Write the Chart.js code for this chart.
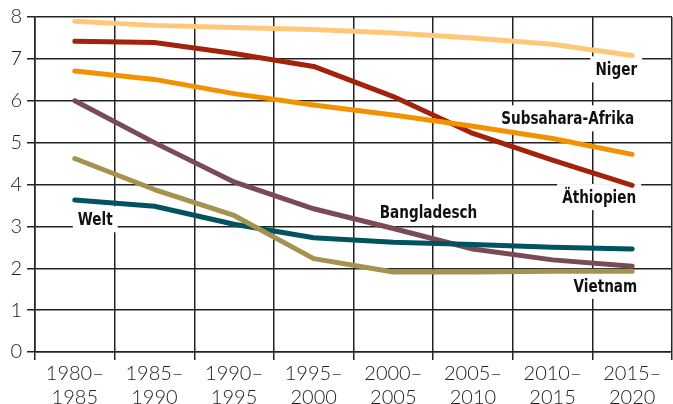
<!DOCTYPE html>
<html>
<head>
<meta charset="utf-8">
<script src="https://cdn.jsdelivr.net/npm/chart.js@4/dist/chart.umd.min.js"></script>
<style>
  html, body { margin: 0; padding: 0; background: #fff; }
  #wrap { width: 673px; height: 404px; }
</style>
</head>
<body>
<div id="wrap"><canvas id="myChart"></canvas></div>
<script>
// ------------ data -------------
const periods = [
  ['1980–', '1985'], ['1985–', '1990'], ['1990–', '1995'], ['1995–', '2000'],
  ['2000–', '2005'], ['2005–', '2010'], ['2010–', '2015'], ['2015–', '2020']
];
const niger      = [7.90, 7.80, 7.75, 7.70, 7.62, 7.50, 7.35, 7.08];
const aethiopien = [7.42, 7.39, 7.13, 6.82, 6.10, 5.22, 4.58, 3.98];
const subsahara  = [6.71, 6.51, 6.17, 5.90, 5.66, 5.39, 5.10, 4.72];
const bangladesch = [6.00, 5.00, 4.06, 3.42, 2.95, 2.46, 2.20, 2.05];
const vietnam    = [4.62, 3.88, 3.26, 2.23, 1.91, 1.91, 1.93, 1.93];
const welt       = [3.63, 3.48, 3.05, 2.73, 2.62, 2.57, 2.50, 2.46];
const yTicks = [0, 1, 2, 3, 4, 5, 6, 7, 8];

const labelFont = 'bold 18px "DejaVu Sans Condensed", "Liberation Sans", sans-serif';
const tickFont = { family: 'Lato, "Open Sans", sans-serif', size: 20, weight: '300' };

function line(label, values, color) {
  return {
    label: label,
    data: values,
    borderColor: color,
    backgroundColor: color,
    borderWidth: 5,
    borderCapStyle: 'round',
    borderJoinStyle: 'round',
    pointRadius: 0,
    tension: 0,
    fill: false
  };
}

// --------- text labels with white box (hides the grid)
const seriesLabels = {
  id: 'seriesLabels',
  beforeDatasetsDraw(chart) {
    const ctx = chart.ctx;
    const x = chart.scales.x, y = chart.scales.y;
    const sx = 0.84; // narrow the bold face a bit
    const items = [
      { text: 'Niger', i: 7, v: 6.75, dx: 5, align: 'right' },
      { text: 'Subsahara-Afrika', i: 7, v: 5.58, dx: 2, align: 'right' },
      { text: 'Äthiopien', i: 7, v: 3.7, dx: 4, align: 'right' },
      { text: 'Bangladesch', i: 3, v: 3.34, dx: 66, align: 'left' },
      { text: 'Welt', i: 0, v: 3.17, dx: 3, align: 'left' },
      { text: 'Vietnam', i: 7, v: 1.58, dx: 5, align: 'right' }
    ];
    ctx.save();
    ctx.font = labelFont;
    ctx.textBaseline = 'middle';
    items.forEach(function (it) {
      const px = x.getPixelForValue(it.i) + it.dx;
      const py = y.getPixelForValue(it.v);
      const w = ctx.measureText(it.text).width * sx;
      const left = it.align === 'right' ? px - w : px;
      ctx.fillStyle = '#fff';
      ctx.fillRect(left - 5, py - 13, w + 10, 26);
      ctx.fillStyle = '#111';
      ctx.save();
      ctx.translate(left, py + 1);
      ctx.scale(sx, 1);
      ctx.textAlign = 'left';
      ctx.fillText(it.text, 0, 0);
      ctx.restore();
    });
    ctx.restore();
  }
};

const config = {
  type: 'line',
  data: {
    labels: periods,
    datasets: [
      line('Vietnam', vietnam, '#A6924F'),
      line('Subsahara-Afrika', subsahara, '#F39200'),
      line('Welt', welt, '#00535F'),
      line('Bangladesch', bangladesch, '#7A4A55'),
      line('Äthiopien', aethiopien, '#A3220C'),
      line('Niger', niger, '#FFC879')
    ]
  },
  options: {
    responsive: true,
    maintainAspectRatio: false,
    animation: false,
    layout: { padding: { top: 17, right: 1, left: 0, bottom: 0 } },
    plugins: { legend: { display: false }, tooltip: { enabled: false } },
    scales: {
      x: {
        offset: true,
        grid: { offset: true, color: '#222', lineWidth: 1.5, tickLength: 8, drawTicks: true },
        border: { display: true, color: '#222', width: 1.5 },
        ticks: { color: '#222', font: tickFont, maxRotation: 0, autoSkip: false, padding: 2 },
        afterFit(s) { s.height = 52; }
      },
      y: {
        min: 0, max: 8,
        afterBuildTicks(s) { s.ticks = yTicks.map(function (v) { return { value: v }; }); },
        grid: { color: '#222', lineWidth: 1.5, tickLength: 8 },
        border: { display: true, color: '#222', width: 1.5 },
        ticks: { color: '#222', font: tickFont, padding: 5 },
        afterFit(s) { s.width = 35; }
      }
    }
  },
  plugins: [seriesLabels]
};

var myChart = new Chart(document.getElementById('myChart'), config);
</script>
</body>
</html>
